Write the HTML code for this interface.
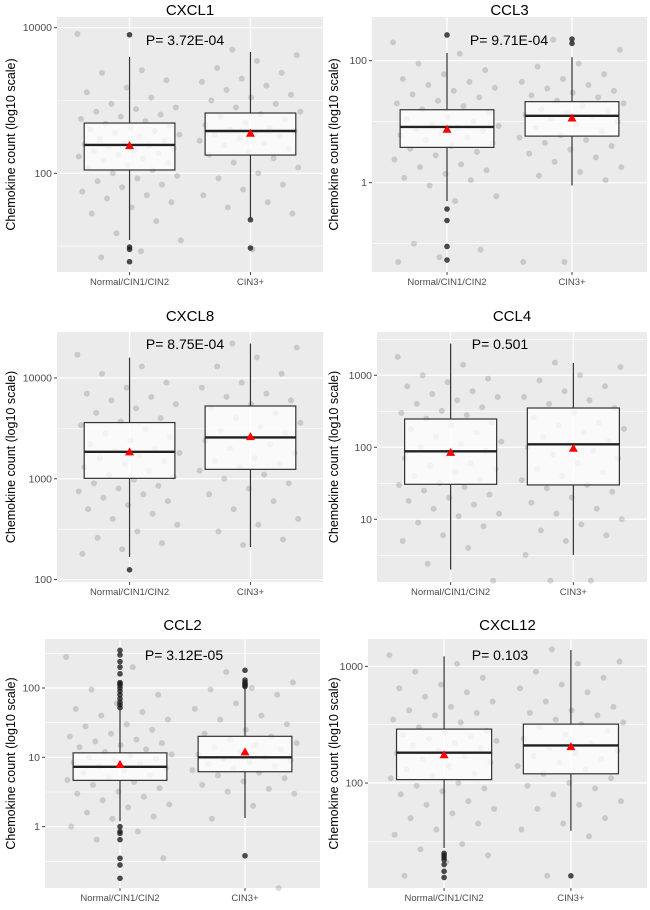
<!DOCTYPE html>
<html><head><meta charset="utf-8"><style>
body{margin:0;background:#fff;width:650px;height:910px;overflow:hidden}
svg{display:block;font-family:"Liberation Sans",sans-serif}
</style></head><body>
<svg id="c" width="650" height="910"></svg>
<script>
const categories=["Normal/CIN1/CIN2","CIN3+"];
const titles=["CXCL1","CCL3","CXCL8","CCL4","CCL2","CXCL12"];
const pvalues=["P= 3.72E-04","P= 9.71E-04","P= 8.75E-04","P= 0.501","P= 3.12E-05","P= 0.103"];
const majorTicks=[[100,10000],[1,100],[100,1000,10000],[10,100,1000],[1,10,100],[100,1000]];
const tickLabels=[["100","10000"],["1","100"],["100","1000","10000"],["10","100","1000"],["1","10","100"],["100","1000"]];
// log10 domain [lo, hi]
const domains=[[0.644,4.147],[-1.464,2.716],[1.976,4.456],[0.129,3.601],[-0.885,2.707],[1.1,3.235]];
// box stats per group: [lowWhisker,q1,median,q3,highWhisker,mean]
const boxNormal=[[12.1,111,245,490,3960,240],[0.5,3.79,8.2,15.7,134,7.5],[168,1010,1853,3610,15930,1850],[2.0,30.6,88,247,2755,85],[1.2,4.65,7.3,11.6,48.7,7.9],[27.7,107,182,290,1220,175]];
const boxCIN3=[[24,178,381,673,4650,355],[0.9,5.8,12.5,21.3,114,11.5],[210,1240,2570,5270,21930,2620],[3.2,30,110,351,1480,97],[1.33,6.2,10,20.1,100,12],[39,120,210,320,1380,205]];
const outNormal=[[8000,9.7,9,6.1],[264,0.37,0.24,0.09,0.054],[125],[],[350,300,240,200,160,120,115,110,100,90,80,70,62,57,52,1.0,0.85,0.8,0.65,0.35,0.28,0.18],[25,24,23,22,20,17.5,15.5]];
const outCIN3=[[23,9.4],[226,192],[],[],[180,130,120,115,110,105,0.38],[16]];
const ptsNormal=[
[8200,2600,2400,1900,1500,1300,1100,900,800,760,700,640,600,560,520,480,450,420,400,380,360,340,320,300,280,260,250,240,230,220,210,200,190,180,170,160,150,140,130,120,110,100,92,85,78,70,64,56,50,45,40,34,28,22,15,12,8.5,7],
[200,130,90,70,60,50,45,40,36,32,28,25,22,20,18,16,14,12,11,10,9,8.5,8,7.5,7,6.5,6,5.5,5,4.5,4,3.6,3.2,2.8,2.4,2,1.8,1.6,1.4,1.2,1.1,0.9,0.6,0.5,0.1,0.08,0.06,0.05],
[17000,13000,11000,9000,8000,7000,6500,6000,5500,5000,4500,4000,3700,3400,3100,2800,2600,2400,2200,2000,1900,1800,1700,1600,1500,1400,1300,1200,1100,1050,980,900,850,800,750,700,650,600,550,500,450,400,350,300,260,230,200,180],
[1800,1400,1000,900,800,700,600,550,500,450,400,360,320,300,280,250,220,200,180,160,140,120,110,100,90,80,70,60,55,50,45,40,36,32,30,28,25,22,20,18,16,14,12,11,9,8,6,5,4,2.4,1.4],
[280,200,95,80,60,50,45,40,35,30,28,25,22,20,18,17,16,15,14,13,12,11,10.5,10,9.5,9,8.5,8,7.5,7,6.5,6,5.5,5,4.7,4.4,4,3.6,3.2,3,2.7,2.4,2.1,1.9,1.6,1.4,1.3,1,0.85,0.65,0.35],
[1250,1050,900,800,700,650,600,550,500,450,420,400,380,350,330,300,280,270,260,250,240,230,220,210,200,190,180,170,160,150,140,130,120,115,110,100,95,90,85,80,70,65,60,55,50,45,40,36,30,27,24,21,16]];
const ptsCIN3=[
[5000,4200,3500,2800,2400,2000,1800,1600,1400,1200,1100,1000,900,800,700,650,600,550,500,460,420,400,380,360,340,320,300,280,260,240,220,200,180,160,140,120,100,85,70,60,50,40,34,28,9],
[220,150,90,80,60,50,45,40,35,32,30,27,25,22,20,18,16,15,14,13,12,11,10,9,8,7,6,5.5,5,4.5,4,3.5,3,2.6,2.2,1.8,1.5,1.3,1.1,0.05,0.05],
[22000,20000,16000,13000,11000,9000,8000,7000,6500,6000,5500,5000,4500,4000,3600,3300,3000,2800,2600,2400,2200,2000,1800,1600,1500,1400,1300,1200,1100,1000,900,800,700,600,500,400,350,300,250,220],
[1500,1300,1000,850,700,600,500,450,400,350,300,260,220,200,180,160,140,120,110,100,90,80,70,60,50,45,40,35,30,27,24,20,17,14,12,10,8.5,7,6,5,3.2,1.4,1.4],
[170,120,100,95,80,60,50,40,35,30,25,22,20,18,16,15,14,13,12,11,10,9.5,9,8.5,8,7.5,7,6.5,6,5.5,5,4.5,4,3.5,3.2,3,2,1.3,0.13],
[1400,1100,1050,900,800,700,650,600,500,450,420,400,380,350,330,320,300,280,260,240,220,200,190,180,170,160,150,140,130,120,110,100,95,90,80,70,65,60,50,45,40,35,16]];
</script>
<script>
const NS="http://www.w3.org/2000/svg";
const svg=document.getElementById('c');
const layout=[
{l:57,r:323,t:17,b:272,ty:17,px:185,py:45},
{l:372,r:647,t:17,b:272,ty:17,px:509,py:45},
{l:57,r:323,t:332,b:582,ty:323,px:185,py:349},
{l:377,r:647,t:332,b:582,ty:323,px:500,py:349},
{l:45,r:320,t:639,b:888,ty:632,px:184,py:660},
{l:368,r:647,t:639,b:888,ty:632,px:500,py:660}];
function mk(tag,attrs,parent,name,inter){const e=document.createElementNS(NS,tag);for(const k in attrs)e.setAttribute(k,attrs[k]);


(parent||svg).appendChild(e);return e;}
function jit(i){return ((i*0.6180339)%1)-0.5;}
titles.forEach((title,p)=>{
 const L=layout[p],d=domains[p];
 const g=mk('g',{},svg,'panel-'+title.toLowerCase(),false);
 const y=v=>L.b-(Math.log10(v)-d[0])/(d[1]-d[0])*(L.b-L.t);
 const span=L.r-L.l;
 const x=i=>L.l+span*(0.6+i)/2.2;
 mk('rect',{x:L.l,y:L.t,width:span,height:L.b-L.t,fill:'#ebebeb'},g,'plot-background',false);
 const mj=majorTicks[p];const step=Math.log10(mj[1])-Math.log10(mj[0]);
 for(let k=Math.log10(mj[0])-step*3.5;k<d[1];k+=step){const yy=L.b-(k-d[0])/(d[1]-d[0])*(L.b-L.t);
  if(yy>L.t&&yy<L.b)mk('line',{x1:L.l,x2:L.r,y1:yy,y2:yy,stroke:'#fff','stroke-width':0.6},g,'minor-gridline',false);}
 mj.forEach((v,k)=>{const yy=y(v);
  mk('line',{x1:L.l,x2:L.r,y1:yy,y2:yy,stroke:'#fff','stroke-width':1.2},g,'major-gridline',false);
  mk('line',{x1:L.l-3,x2:L.l,y1:yy,y2:yy,stroke:'#444','stroke-width':1},g,'y-tick',false);
  const t=mk('text',{x:L.l-5,y:yy+3.5,'text-anchor':'end','font-size':10.5,fill:'#4d4d4d'},g,'y-tick-label',false);t.textContent=tickLabels[p][k];});
 [0,1].forEach(i=>{mk('line',{x1:x(i),x2:x(i),y1:L.t,y2:L.b,stroke:'#fff','stroke-width':1.2},g,'x-gridline',false);
  mk('line',{x1:x(i),x2:x(i),y1:L.b,y2:L.b+3,stroke:'#444'},g,'x-tick',false);
  const t=mk('text',{x:x(i),y:L.b+13,'text-anchor':'middle','font-size':9.5,fill:'#4d4d4d'},g,'x-tick-label',false);t.textContent=categories[i];});
 const groups=[[boxNormal[p],ptsNormal[p],outNormal[p]],[boxCIN3[p],ptsCIN3[p],outCIN3[p]]];
 groups.forEach(([b,pts,outs],i)=>{
  const cx=x(i),hw=span*0.375/2.2;
  pts.forEach((v,j)=>mk('circle',{cx:cx+jit(j+i*7)*hw*2.3,cy:y(v),r:3,fill:'rgba(0,0,0,0.14)'},g,'jitter-point',false));
  mk('line',{x1:cx,x2:cx,y1:y(b[4]),y2:y(b[3]),stroke:'#333','stroke-width':1.2},g,'upper-whisker',false);
  mk('line',{x1:cx,x2:cx,y1:y(b[1]),y2:y(b[0]),stroke:'#333','stroke-width':1.2},g,'lower-whisker',false);
  mk('rect',{x:cx-hw,y:y(b[3]),width:hw*2,height:y(b[1])-y(b[3]),fill:'rgba(255,255,255,0.75)',stroke:'#333','stroke-width':1.2},g,'box-'+(i?'cin3':'normal'),false);
  mk('line',{x1:cx-hw,x2:cx+hw,y1:y(b[2]),y2:y(b[2]),stroke:'#222','stroke-width':2.4},g,'median-line',false);
  outs.forEach(v=>mk('circle',{cx:cx,cy:y(v),r:2.8,fill:'rgba(30,30,30,0.8)'},g,'outlier-point',false));
  const my=y(b[5]);
  mk('polygon',{points:`${cx-4.5},${my+3.5} ${cx+4.5},${my+3.5} ${cx},${my-4.5}`,fill:'#f00'},g,'mean-marker',false);
 });
 const tt=mk('text',{x:(L.l+L.r)/2,y:L.ty-2,'text-anchor':'middle','font-size':15,fill:'#000'},g,'panel-title',false);tt.textContent=title;
 const pt=mk('text',{x:L.px,y:L.py,'text-anchor':'middle','font-size':14,fill:'#000'},g,'p-value-label',false);pt.textContent=pvalues[p];
 const yl=mk('text',{x:0,y:0,'text-anchor':'middle','font-size':12.5,fill:'#000',transform:`translate(${p%2?338:15},${(L.t+L.b)/2}) rotate(-90)`},g,'y-axis-title',false);yl.textContent='Chemokine count (log10 scale)';
});
</script>
</body></html>
